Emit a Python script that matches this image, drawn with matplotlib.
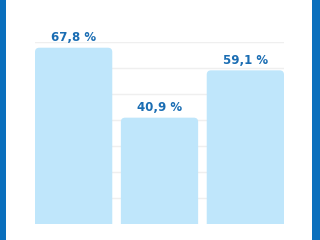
import numpy as np
import matplotlib.pyplot as plt
from matplotlib.patches import Rectangle, FancyBboxPatch

categories = ["A", "B", "C"]
values = [67.8, 40.9, 59.1]
labels = ["67,8 %", "40,9 %", "59,1 %"]
yticks = [0, 10, 20, 30, 40, 50, 60, 70]

fig = plt.figure(figsize=(3.2, 2.4), dpi=100)
fig.patch.set_facecolor("white")

# blue frame on the sides
fig.patches.append(Rectangle((0, 0), 6 / 320, 1, transform=fig.transFigure,
                             facecolor="#0a6fbd", edgecolor="none"))
fig.patches.append(Rectangle((312 / 320, 0), 8 / 320, 1, transform=fig.transFigure,
                             facecolor="#0a6fbd", edgecolor="none"))

ax = fig.add_axes([35 / 320, 16 / 240, 249 / 320, 182 / 240])
x = np.arange(len(values))
ax.set_axisbelow(True)
for t in yticks[1:]:
    ax.axhline(t, color="#efefef", lw=1, zorder=0)

bars = ax.bar(x, values, width=0.9, color="#bfe6fb", edgecolor="none", zorder=2)
# swap plain bars for ones with rounded top corners
for b in bars:
    x0, w, h = b.get_x(), b.get_width(), b.get_height()
    b.set_visible(False)
    p = FancyBboxPatch((x0, -3), w, h + 3,
                       boxstyle="round,pad=0,rounding_size=0.05",
                       mutation_aspect=33, facecolor="#bfe6fb",
                       edgecolor="none", zorder=2)
    ax.add_patch(p)

for xi, v, lab in zip(x, values, labels):
    ax.annotate(lab, (xi, v), xytext=(0, 10), textcoords="offset pixels",
                ha="center", va="center", fontsize=8.5, fontweight="bold",
                color="#1a6db3")

ax.set_xlim(-0.45, 2.45)
ax.set_ylim(0, 70)
ax.set_xticks([])
ax.set_yticks([])
for s in ax.spines.values():
    s.set_visible(False)
ax.patch.set_alpha(0)

fig.savefig("out.png", dpi=100)
